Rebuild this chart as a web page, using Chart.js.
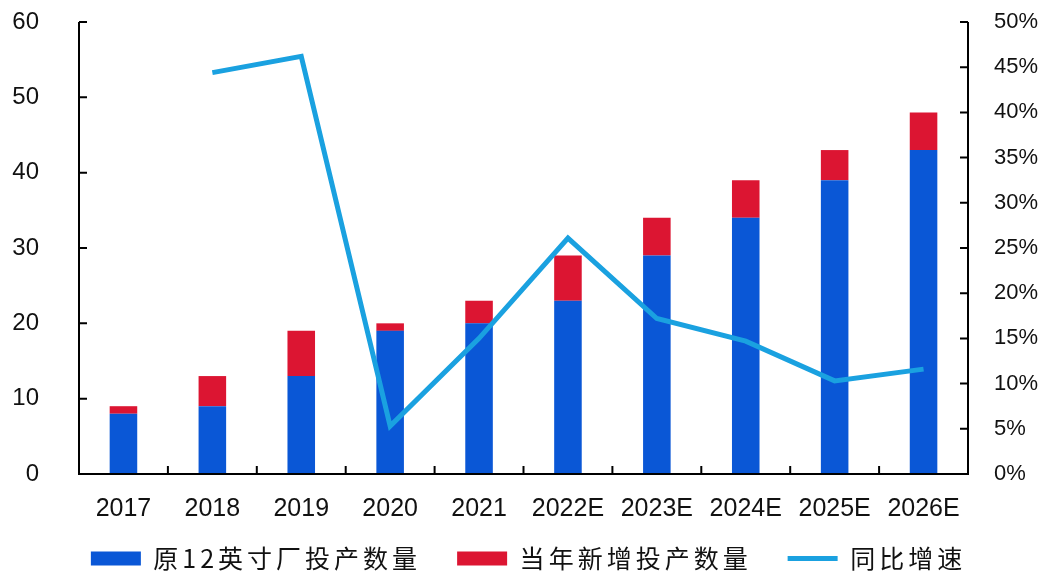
<!DOCTYPE html>
<html lang="zh">
<head>
    <meta charset="UTF-8">
    <title>12英寸厂投产数量</title>
    <style>
        html, body { margin: 0; padding: 0; background: #fff; }
        #wrap { width: 1043px; height: 574px; }
    </style>
</head>
<body>
    <div id="wrap"><canvas id="chart" width="1043" height="574"></canvas></div>
    <script src="https://cdn.jsdelivr.net/npm/chart.js"></script>
    <script>
        const years = ['2017', '2018', '2019', '2020', '2021', '2022E', '2023E', '2024E', '2025E', '2026E'];
        const existingFabs = [8, 9, 13, 19, 20, 23, 29, 34, 39, 43];
        const newFabs = [1, 4, 6, 1, 3, 6, 5, 5, 4, 5];
        const yoyGrowth = [null, 44.4, 46.2, 5.3, 15.0, 26.1, 17.2, 14.7, 10.3, 11.6];
        const leftTicks = [0, 10, 20, 30, 40, 50, 60];
        const rightTicks = [0, 5, 10, 15, 20, 25, 30, 35, 40, 45, 50];

        const AXIS_FONT = '"Liberation Sans", Arial, sans-serif';
        const CJK_FONT = '"Noto Sans CJK SC", sans-serif';
        const BLUE = '#0a57d6';
        const RED = '#dc1532';
        const LINE = '#1aa1e0';

        // axis lines with short inward ticks, like the original office chart
        const axisTicks = {
            id: 'axisTicks',
            afterDatasetsDraw(chart) {
                const { ctx, chartArea: a, scales } = chart;
                const len = 8;
                ctx.save();
                ctx.strokeStyle = '#000';
                ctx.lineWidth = 2;
                ctx.beginPath();
                ctx.moveTo(a.left, a.top); ctx.lineTo(a.left, a.bottom);
                ctx.lineTo(a.right, a.bottom); ctx.lineTo(a.right, a.top);
                leftTicks.forEach(v => {
                    const y = scales.y.getPixelForValue(v);
                    ctx.moveTo(a.left, y); ctx.lineTo(a.left + len, y);
                });
                rightTicks.forEach(v => {
                    const y = scales.y2.getPixelForValue(v);
                    ctx.moveTo(a.right, y); ctx.lineTo(a.right - len, y);
                });
                const step = (a.right - a.left) / years.length;
                for (let i = 1; i < years.length; i++) {
                    const x = a.left + step * i;
                    ctx.moveTo(x, a.bottom); ctx.lineTo(x, a.bottom - len);
                }
                ctx.stroke();
                ctx.restore();
            }
        };

        // legend: spaced-out CJK text, a short band at the bottom, items pulled up
        const LEGEND_H = 40;
        const LEGEND_SHIFT_X = 7;
        const LEGEND_SHIFT_Y = -24;
        const legendTweak = {
            id: 'legendTweak',
            beforeLayout(chart) {
                const lg = chart.legend;
                if (!lg || lg._tweaked) return;
                lg._tweaked = true;
                const fit = lg.fit, draw = lg.draw;
                lg.fit = function () {
                    this.ctx.save();
                    this.ctx.letterSpacing = '4px';
                    fit.call(this);
                    this.ctx.restore();
                    this.height = LEGEND_H;
                };
                lg.draw = function () {
                    const c = this.ctx;
                    c.save();
                    c.letterSpacing = '4px';
                    c.translate(LEGEND_SHIFT_X, LEGEND_SHIFT_Y);
                    const bottom = this.bottom;
                    this.bottom = bottom - LEGEND_SHIFT_Y;
                    draw.call(this);
                    this.bottom = bottom;
                    c.restore();
                };
            }
        };

        // keep the value axes from reserving label room above/below the plot
        const noEdgePad = s => { s.paddingTop = 0; s.paddingBottom = 0; };

        new Chart(document.getElementById('chart'), {
            data: {
                labels: years,
                datasets: [
                    {
                        type: 'bar',
                        label: '原12英寸厂投产数量',
                        data: existingFabs,
                        backgroundColor: BLUE,
                        stack: 'fabs',
                        barPercentage: 0.31,
                        categoryPercentage: 1,
                        pointStyle: 'rect',
                        order: 1
                    },
                    {
                        type: 'bar',
                        label: '当年新增投产数量',
                        data: newFabs,
                        backgroundColor: RED,
                        stack: 'fabs',
                        barPercentage: 0.31,
                        categoryPercentage: 1,
                        pointStyle: 'rect',
                        order: 1
                    },
                    {
                        type: 'line',
                        label: '同比增速',
                        data: yoyGrowth,
                        yAxisID: 'y2',
                        borderColor: LINE,
                        backgroundColor: LINE,
                        borderWidth: 5,
                        pointRadius: 0,
                        tension: 0,
                        pointStyle: 'line',
                        order: 0
                    }
                ]
            },
            options: {
                responsive: false,
                animation: false,
                layout: { padding: { top: 22, bottom: 0 } },
                plugins: {
                    tooltip: { enabled: false },
                    legend: {
                        position: 'bottom',
                        labels: {
                            usePointStyle: true,
                            pointStyleWidth: 50,
                            boxHeight: 14,
                            padding: 36,
                            color: '#111',
                            font: { family: CJK_FONT, size: 25 },
                            sort: (a, b) => a.datasetIndex - b.datasetIndex
                        }
                    }
                },
                scales: {
                    x: {
                        stacked: true,
                        grid: { display: false },
                        border: { display: false },
                        ticks: {
                            color: '#111', padding: 12,
                            maxRotation: 0, minRotation: 0, autoSkip: false,
                            font: { family: AXIS_FONT, size: 25 }
                        },
                        afterFit(s) { s.height = 60; }
                    },
                    y: {
                        stacked: true,
                        position: 'left',
                        min: 0, max: 60,
                        grid: { display: false },
                        border: { display: false },
                        ticks: { stepSize: 10, color: '#111', padding: 32, font: { family: AXIS_FONT, size: 24 } },
                        afterFit(s) { s.width = 79; noEdgePad(s); }
                    },
                    y2: {
                        position: 'right',
                        min: 0, max: 50,
                        grid: { display: false },
                        border: { display: false },
                        ticks: {
                            stepSize: 5, color: '#111', padding: 18,
                            font: { family: AXIS_FONT, size: 22 },
                            callback: v => v + '%'
                        },
                        afterFit(s) { s.width = 75; noEdgePad(s); }
                    }
                }
            },
            plugins: [axisTicks, legendTweak]
        });
    </script>
</body>
</html>
